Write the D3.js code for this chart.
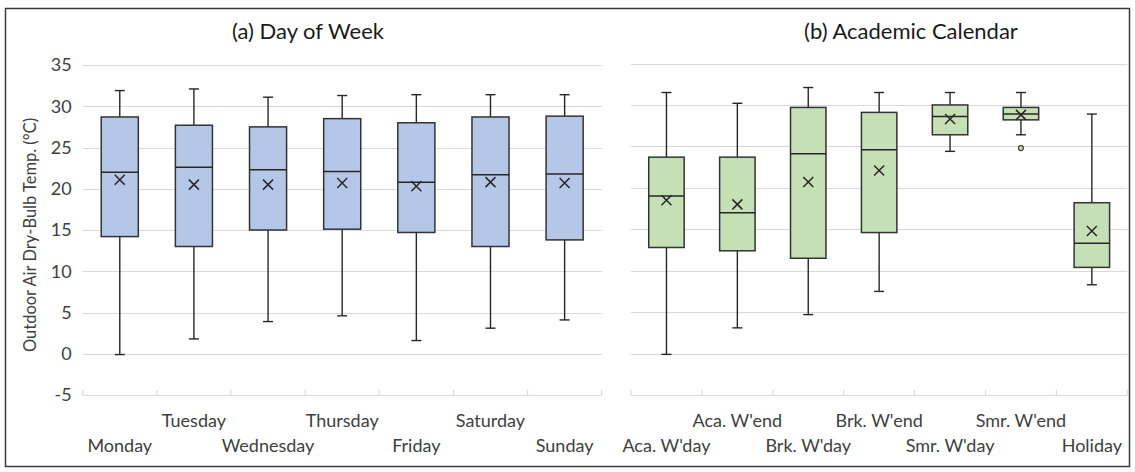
<!DOCTYPE html>
<html>
<head>
<meta charset="utf-8">
<script src="https://cdnjs.cloudflare.com/ajax/libs/d3/7.8.5/d3.min.js"></script>
<style>
  body { margin: 0; background: #fff; }
  text { font-family: Lato, "Open Sans", sans-serif; }
</style>
</head>
<body>
<svg id="chart" width="1135" height="472"></svg>
<script>
// (a) day of week
var dayCats = ['Monday', 'Tuesday', 'Wednesday', 'Thursday', 'Friday', 'Saturday', 'Sunday'];
var dayMin  = [-0.1, 1.8, 3.9, 4.6, 1.6, 3.1, 4.1];
var dayQ1   = [14.2, 13.0, 15.0, 15.1, 14.7, 13.0, 13.8];
var dayMed  = [22.0, 22.6, 22.3, 22.1, 20.8, 21.7, 21.8];
var dayQ3   = [28.7, 27.7, 27.5, 28.5, 28.0, 28.7, 28.8];
var dayMax  = [31.9, 32.1, 31.1, 31.3, 31.4, 31.4, 31.4];
var dayMean = [21.1, 20.5, 20.5, 20.7, 20.3, 20.8, 20.7];

// (b) academic calendar
var calCats = ["Aca. W'day", "Aca. W'end", "Brk. W'day", "Brk. W'end", "Smr. W'day", "Smr. W'end", 'Holiday'];
var calMin  = [-0.1, 3.1, 4.7, 7.5, 24.4, 26.4, 8.3];
var calQ1   = [12.8, 12.4, 11.5, 14.6, 26.4, 28.2, 10.4];
var calMed  = [19.0, 17.0, 24.1, 24.6, 28.6, 28.9, 13.3];
var calQ3   = [23.7, 23.7, 29.7, 29.1, 30.0, 29.7, 18.2];
var calMax  = [31.5, 30.2, 32.1, 31.5, 31.5, 31.5, 28.9];
var calMean = [18.5, 18.0, 20.7, 22.1, 28.3, 28.8, 14.8];
var calOutliers = [{cat: "Smr. W'end", value: 24.8}];

var yTicks = [-5, 0, 5, 10, 15, 20, 25, 30, 35];

var svg = d3.select('#chart');

svg.append('rect')
    .attr('x', 5.5)
    .attr('y', 8.5)
    .attr('width', 1124)
    .attr('height', 458)
    .attr('fill', '#fff')
    .attr('stroke', '#3a3a3a')
    .attr('stroke-width', 1.5)
    ;

var toRows = function(cats, mn, q1, med, q3, mx, mean) {
  return cats.map(function(c, i) {
    return {cat: c, min: mn[i], q1: q1[i], med: med[i], q3: q3[i], max: mx[i], mean: mean[i], i: i};
  });
};

var drawpanel = function(opts) {
  var x = d3.scaleBand()
      .domain(opts.cats)
      .range([opts.left, opts.right])
      .paddingInner(0)
      .paddingOuter(0)
      ;
  var y = d3.scaleLinear()
      .domain([-5, 35])
      .range([395, opts.top])
      ;

  var g = svg.append('g');

  // gridlines
  g.selectAll('line.grid')
      .data(yTicks)
      .enter().append('line')
      .attr('class', 'grid')
      .attr('x1', opts.left)
      .attr('x2', opts.right)
      .attr('y1', function(d){return Math.round(y(d)) + 0.5;})
      .attr('y2', function(d){return Math.round(y(d)) + 0.5;})
      .attr('stroke', '#d9d9d9')
      .attr('stroke-width', 1.2)
    ;

  // category ticks on the axis line
  var bounds = opts.cats.map(function(c){return x(c);}).concat([opts.right]);
  g.selectAll('line.tick')
      .data(bounds)
      .enter().append('line')
      .attr('x1', function(d){return d;})
      .attr('x2', function(d){return d;})
      .attr('y1', y(-5) - 5)
      .attr('y2', y(-5))
      .attr('stroke', '#d9d9d9')
      .attr('stroke-width', 1.2)
    ;

  if (opts.yLabels) {
    g.selectAll('text.ylab')
        .data(yTicks)
        .enter().append('text')
        .attr('x', opts.left - 11)
        .attr('y', function(d){return y(d);})
        .attr('dy', '0.35em')
        .attr('text-anchor', 'end')
        .attr('font-size', 18)
        .attr('fill', '#404040')
        .text(function(d){return d;})
      ;
  }

  // x labels, staggered in two rows
  g.selectAll('text.xlab')
      .data(opts.cats)
      .enter().append('text')
      .attr('x', function(d){return x(d) + x.bandwidth() / 2;})
      .attr('y', function(d, i){return i % 2 === 0 ? 451.5 : 426.5;})
      .attr('text-anchor', 'middle')
      .attr('font-size', 18)
      .attr('fill', '#404040')
      .text(function(d){return d;})
    ;

  var bw = x.bandwidth() * 0.5;
  var cap = 10;
  var boxes = g.selectAll('g.box')
      .data(opts.rows)
      .enter().append('g')
      .attr('class', 'box')
      .attr('transform', function(d){return 'translate(' + (x(d.cat) + x.bandwidth() / 2) + ',0)';})
    ;

  boxes.append('line')
      .attr('x1', 0).attr('x2', 0)
      .attr('y1', function(d){return y(d.max);})
      .attr('y2', function(d){return y(d.q3);})
      .attr('stroke', '#262626').attr('stroke-width', 1.4)
    ;
  boxes.append('line')
      .attr('x1', 0).attr('x2', 0)
      .attr('y1', function(d){return y(d.q1);})
      .attr('y2', function(d){return y(d.min);})
      .attr('stroke', '#262626').attr('stroke-width', 1.4)
    ;
  boxes.append('line')
      .attr('x1', -cap / 2).attr('x2', cap / 2)
      .attr('y1', function(d){return y(d.max);})
      .attr('y2', function(d){return y(d.max);})
      .attr('stroke', '#262626').attr('stroke-width', 1.4)
    ;
  boxes.append('line')
      .attr('x1', -cap / 2).attr('x2', cap / 2)
      .attr('y1', function(d){return y(d.min);})
      .attr('y2', function(d){return y(d.min);})
      .attr('stroke', '#262626').attr('stroke-width', 1.4)
    ;
  boxes.append('rect')
      .attr('x', -bw / 2)
      .attr('width', bw)
      .attr('y', function(d){return y(d.q3);})
      .attr('height', function(d){return y(d.q1) - y(d.q3);})
      .attr('fill', opts.fill)
      .attr('stroke', '#333')
      .attr('stroke-width', 1.5)
    ;
  boxes.append('line')
      .attr('x1', -bw / 2).attr('x2', bw / 2)
      .attr('y1', function(d){return y(d.med);})
      .attr('y2', function(d){return y(d.med);})
      .attr('stroke', '#262626').attr('stroke-width', 1.5)
    ;
  // mean marker
  boxes.append('path')
      .attr('d', function(d){
        var m = y(d.mean), s = 5;
        return 'M' + (-s) + ',' + (m - s) + 'L' + s + ',' + (m + s) + 'M' + (-s) + ',' + (m + s) + 'L' + s + ',' + (m - s);
      })
      .attr('stroke', '#262626')
      .attr('stroke-width', 1.5)
      .attr('fill', 'none')
    ;

  g.selectAll('circle.outlier')
      .data(opts.outliers)
      .enter().append('circle')
      .attr('cx', function(d){return x(d.cat) + x.bandwidth() / 2;})
      .attr('cy', function(d){return y(d.value);})
      .attr('r', 2.5)
      .attr('fill', opts.fill)
      .attr('stroke', '#404040')
      .attr('stroke-width', 1.2)
    ;

  svg.append('text')
      .attr('x', opts.titleX)
      .attr('y', 39)
      .attr('text-anchor', 'middle')
      .attr('font-size', 22)
      .attr('fill', '#1a1a1a')
      .text(opts.title)
    ;
};

drawpanel({
  cats: dayCats,
  rows: toRows(dayCats, dayMin, dayQ1, dayMed, dayQ3, dayMax, dayMean),
  outliers: [],
  left: 82.7, right: 601.7, top: 65,
  fill: '#b4c7e7',
  yLabels: true,
  title: '(a) Day of Week',
  titleX: 308
});

drawpanel({
  cats: calCats,
  rows: toRows(calCats, calMin, calQ1, calMed, calQ3, calMax, calMean),
  outliers: calOutliers,
  left: 631, right: 1127.3, top: 63.5,
  fill: '#c5e0b4',
  yLabels: false,
  title: '(b) Academic Calendar',
  titleX: 911
});

svg.append('text')
    .attr('transform', 'translate(30,235) rotate(-90)')
    .attr('dy', '0.35em')
    .attr('text-anchor', 'middle')
    .attr('font-size', 16.5)
    .attr('fill', '#404040')
    .text('Outdoor Air Dry-Bulb Temp. (°C)')
    ;
</script>
</body>
</html>
